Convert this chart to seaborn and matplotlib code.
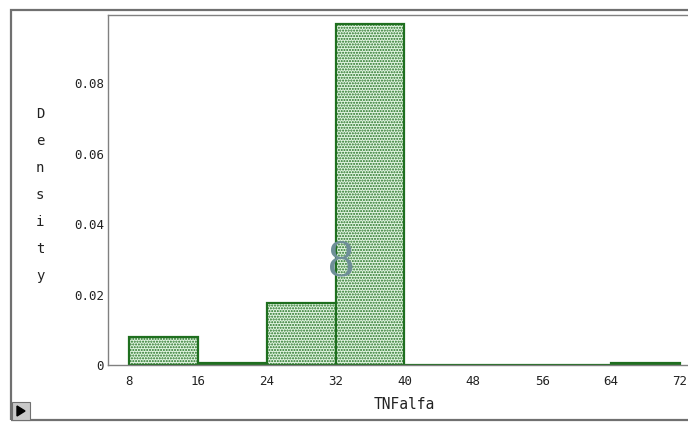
import numpy as np
import seaborn as sns
import matplotlib.pyplot as plt
from matplotlib import patches

# histogram of TNFalfa, density per bin (bin width 8)
bin_edges = [8, 16, 24, 32, 40, 48, 56, 64, 72]
density = [0.0079, 0.0006, 0.0176, 0.0967, 0.0, 0.0, 0.0, 0.0006]
x_ticks = [8, 16, 24, 32, 40, 48, 56, 64, 72]
y_ticks = [0, 0.02, 0.04, 0.06, 0.08]
y_tick_labels = ["0", "0.02", "0.04", "0.06", "0.08"]

centers = [(a + b) / 2 for a, b in zip(bin_edges[:-1], bin_edges[1:])]

sns.set_style("white")
plt.rcParams["font.family"] = ["DejaVu Sans Mono"]
plt.rcParams["hatch.linewidth"] = 1.0

fig = plt.figure(figsize=(6.88, 4.22), dpi=100)
ax = fig.add_axes([108 / 688, 57 / 422, 592 / 688, 350 / 422])

sns.histplot(x=centers, weights=density, bins=bin_edges, ax=ax,
             color="#e2f5e2", edgecolor="#1f6f1f", linewidth=1.6,
             hatch="......", alpha=1.0)

ax.set_xlim(5.56, 74.33)
ax.set_ylim(0, 0.0993)
ax.set_xticks(x_ticks)
ax.set_yticks(y_ticks)
ax.set_yticklabels(y_tick_labels)
ax.tick_params(axis="both", direction="out", length=3, width=0.8,
               colors="#808080", labelcolor="#222222", labelsize=9)
ax.tick_params(axis="x", pad=4)
ax.tick_params(axis="y", pad=0)
for side in ["left", "bottom", "top"]:
    ax.spines[side].set_color("#808080")
    ax.spines[side].set_linewidth(1.0)
ax.spines["right"].set_visible(False)

ax.set_xlabel("TNFalfa", fontsize=10.5, color="#222222", labelpad=7)
ax.set_ylabel("")

# stacked y label letters
for i, ch in enumerate("Density"):
    fig.text(40 / 688, 1 - (114 + 27 * i) / 422, ch, fontsize=10,
             color="#222222", ha="center", va="center")

# big "8" marker in the plot
fig.text(341 / 688, 1 - 263 / 422, "8", fontsize=38, fontfamily="Liberation Serif",
         color="#6f8f98", ha="center", va="center")

# outer frame
fig.patches.append(patches.Rectangle((11 / 688, 2 / 422), 690 / 688, 410 / 422,
                                     transform=fig.transFigure, fill=False,
                                     edgecolor="#707070", linewidth=1.6))
# play button
fig.patches.append(patches.Rectangle((12 / 688, 2 / 422), 18 / 688, 18 / 422,
                                     transform=fig.transFigure, facecolor="#c8c8c8",
                                     edgecolor="#707070", linewidth=0.8))
fig.patches.append(patches.Polygon([(17 / 688, 6 / 422), (17 / 688, 16 / 422),
                                    (25 / 688, 11 / 422)],
                                   transform=fig.transFigure, facecolor="black",
                                   edgecolor="black"))

fig.savefig("out.png", dpi=100)
